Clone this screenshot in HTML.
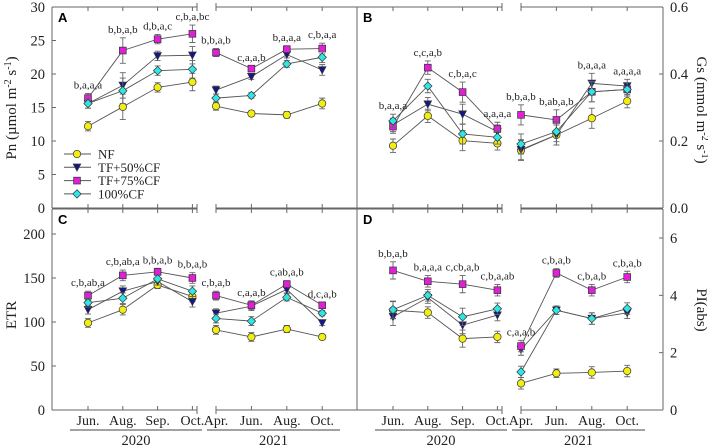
<!DOCTYPE html>
<html><head><meta charset="utf-8">
<style>
html,body{margin:0;padding:0;background:#fff;}
svg{display:block;font-family:"Liberation Serif",serif;}
</style></head>
<body>
<svg id="chart" width="708" height="447" viewBox="0 0 708 447"></svg>
<script>
const months = ["Jun.","Aug.","Sep.","Oct.","Apr.","Jun.","Aug.","Oct."];
const years = ["2020","2021"];
const seriesNames = ["NF","TF+50%CF","TF+75%CF","100%CF"];
// Panel A: Pn
const pnNF   = [12.2,15.1,18.0,18.8,15.2,14.1,13.9,15.6];
const pnTF50 = [15.6,18.3,22.7,22.8,17.6,19.6,22.9,20.6];
const pnTF75 = [16.4,23.5,25.2,26.0,23.2,20.8,23.7,23.8];
const pnCF   = [15.6,17.5,20.5,20.7,16.4,16.8,21.5,22.5];
const pnErr  = [0.7,1.9,0.7,1.3,0.6,0.4,0.5,0.8];
const pnLabels = ["b,a,a,a","b,b,a,b","d,b,a,c","c,b,a,bc","b,b,a,b","c,a,a,b","b,a,a,a","c,b,a,a"];
const pnTicks = [0,5,10,15,20,25,30];
// Panel B: Gs
const gsNF   = [0.186,0.275,0.201,0.193,0.172,0.218,0.268,0.319];
const gsTF50 = [0.248,0.310,0.280,0.228,0.174,0.218,0.372,0.364];
const gsTF75 = [0.243,0.419,0.346,0.236,0.278,0.263,0.347,0.354];
const gsCF   = [0.260,0.364,0.221,0.211,0.191,0.228,0.347,0.354];
const gsErr  = [0.02,0.02,0.03,0.02,0.03,0.03,0.03,0.02];
const gsLabels = ["b,a,a,a","c,c,a,b","c,b,a,c","a,a,a,a","b,b,a,b","b,ab,a,b","b,a,a,a","a,a,a,a"];
const gsTicks = [0.0,0.2,0.4,0.6];
// Panel C: ETR
const etrNF   = [99,114,142,129,91,83,92,83];
const etrTF50 = [114,135,146,123,110,118,137,99];
const etrTF75 = [130,153,157,150,130,119,143,119];
const etrCF   = [122,127,149,135,104,101,128,110];
const etrErr  = [5,6,4,6,5,5,4,3];
const etrLabels = ["c,b,ab,a","c,b,ab,a","b,b,a,b","b,b,a,b","c,b,a,b","c,a,a,b","c,ab,a,b","d,c,a,b"];
const etrTicks = [0,50,100,150,200];
// Panel D: PI(abs)
const piNF   = [3.48,3.40,2.49,2.55,0.93,1.28,1.31,1.36];
const piTF50 = [3.25,3.92,2.96,3.31,2.11,3.48,3.19,3.39];
const piTF75 = [4.87,4.49,4.39,4.18,2.23,4.78,4.18,4.64];
const piCF   = [3.50,4.00,3.25,3.53,1.33,3.48,3.19,3.54];
const piErr  = [0.3,0.2,0.3,0.2,0.2,0.15,0.2,0.2];
const piLabels = ["b,b,a,b","b,a,a,a","c,cb,a,b","c,b,a,ab","c,a,a,b","c,b,a,b","c,b,a,b","c,b,a,b"];
const piTicks = [0,2,4,6];

const NS="http://www.w3.org/2000/svg";
const svg=document.getElementById('chart');
function mk(tag,attrs,parent){const e=document.createElementNS(NS,tag);for(const k in attrs)e.setAttribute(k,attrs[k]);(parent||svg).appendChild(e);return e;}
const colors=["#f2ee10","#16168a","#e020d8","#2ee6e6"];

function xPos(left,i){return i<4? left+36+i*34.8 : left+164+(i-4)*35.4;}

function drawPanel(p){
  const g=mk('g',{});
  
  
  const L=p.left,R=p.right,T=p.top,B=p.bot;
  const y=v=>p.y0-(v-p.vmin)*p.scale;
  const br1=L+145,br2=L+164;
  [[L,T,br1,T],[br2,T,R,T],[L,B,br1,B],[br2,B,R,B],[L,T,L,B],[R,T,R,B]].forEach(s=>mk('line',{x1:s[0],y1:s[1],x2:s[2],y2:s[3],stroke:'#666','stroke-width':1},g));
  [br1,br2].forEach(bx=>{mk('line',{x1:bx,y1:T-4,x2:bx,y2:T+4,stroke:'#666'},g);mk('line',{x1:bx,y1:B-4,x2:bx,y2:B+4,stroke:'#666'},g);});
  for(let i=0;i<8;i++){const x=xPos(L,i);mk('line',{x1:x,y1:T,x2:x,y2:T+4,stroke:'#666'},g);mk('line',{x1:x,y1:B,x2:x,y2:B-4,stroke:'#666'},g);}
  const ax=p.axisRight?R:L;
  p.ticks.forEach(t=>{
    const yy=y(t);
    mk('line',{x1:ax,y1:yy,x2:p.axisRight?ax-4:ax+4,y2:yy,stroke:'#666'},g);
    const tx=mk('text',{x:p.axisRight?ax+7:ax-7,y:yy+5,'font-size':14.5,'text-anchor':p.axisRight?'start':'end',fill:'#222'},g);
    tx.textContent=p.tickFmt?p.tickFmt(t):t;
    
    
  });
  const lt=mk('text',{x:L+6,y:T+15,'font-size':13,'font-weight':'bold','font-family':'Liberation Sans,sans-serif',fill:'#000'},g);
  lt.textContent=p.id;
  
  
  const sers=[p.s[0],p.s[1],p.s[2],p.s[3]];
  sers.forEach((vals,si)=>{
    [[0,4],[4,8]].forEach(([a,b])=>{
      let d='';for(let i=a;i<b;i++)d+=(i===a?'M':'L')+xPos(L,i)+','+y(vals[i]);
      const pl=mk('path',{d:d,fill:'none',stroke:'#555','stroke-width':0.9},g);
      
      
    });
  });
  sers.forEach((vals,si)=>{
    for(let i=0;i<8;i++){
      const x=xPos(L,i),yy=y(vals[i]),e=p.err[i]*p.scale;
      mk('path',{d:`M${x},${yy-e}V${yy+e}M${x-3},${yy-e}H${x+3}M${x-3},${yy+e}H${x+3}`,stroke:'#666','stroke-width':0.9,fill:'none'},g);
      marker(g,si,x,yy);
    }
  });
  for(let i=0;i<8;i++){
    let mx=Math.max(sers[0][i],sers[1][i],sers[2][i],sers[3][i]);
    const lb=mk('text',{x:xPos(L,i),y:y(mx)-p.err[i]*p.scale-5,'font-size':11,'text-anchor':'middle',fill:'#222'},g);
    lb.textContent=p.labels[i];
    
    
  }
}
function marker(g,si,x,y){
  let m;
  const st={fill:colors[si],stroke:'#333','stroke-width':0.7};
  if(si===0)m=mk('circle',Object.assign({cx:x,cy:y,r:3.7},st),g);
  else if(si===1)m=mk('path',Object.assign({d:`M${x-3.8},${y-3.3}L${x+3.8},${y-3.3}L${x},${y+3.8}Z`},st),g);
  else if(si===2)m=mk('rect',Object.assign({x:x-3.4,y:y-3.4,width:6.8,height:6.8},st),g);
  else m=mk('path',Object.assign({d:`M${x},${y-4.2}L${x+4.2},${y}L${x},${y+4.2}L${x-4.2},${y}Z`},st),g);
  
  
  return m;
}
drawPanel({id:'A',left:52,right:357,top:7,bot:208,y0:208,vmin:0,scale:201/30,axisRight:false,ticks:pnTicks,s:[pnNF,pnTF50,pnTF75,pnCF],err:pnErr,labels:pnLabels});
drawPanel({id:'B',left:357,right:663,top:7,bot:208,y0:208,vmin:0,scale:201/0.6,axisRight:true,ticks:gsTicks,tickFmt:t=>t.toFixed(1),s:[gsNF,gsTF50,gsTF75,gsCF],err:gsErr,labels:gsLabels});
drawPanel({id:'C',left:52,right:357,top:209,bot:410,y0:410,vmin:0,scale:0.88,axisRight:false,ticks:etrTicks,s:[etrNF,etrTF50,etrTF75,etrCF],err:etrErr,labels:etrLabels});
drawPanel({id:'D',left:357,right:663,top:209,bot:410,y0:410,vmin:0,scale:172/6,axisRight:true,ticks:piTicks,s:[piNF,piTF50,piTF75,piCF],err:piErr,labels:piLabels});

[52,357].forEach((L,pi)=>{
  months.forEach((m,i)=>{
    const t=mk('text',{x:xPos(L,i),y:425,'font-size':14,'text-anchor':'middle',fill:'#222'});
    t.textContent=m;
    
    
  });
  years.forEach((yr,k)=>{
    const x1=k===0?L+18:L+155,x2=k===0?L+150:L+288;
    mk('line',{x1:x1,y1:430,x2:x2,y2:430,stroke:'#444'});
    const t=mk('text',{x:(x1+x2)/2,y:445,'font-size':14.5,'text-anchor':'middle',fill:'#222'});
    t.textContent=yr;
    
    
  });
});

function title(txt,x,y,rot,name){
  const t=mk('text',{x:0,y:0,'font-size':15,'text-anchor':'middle',fill:'#222',transform:`translate(${x},${y}) rotate(${rot})`});
  t.innerHTML=txt;
  
  
}
title('Pn (µmol m<tspan dy="-5" font-size="10">-2</tspan><tspan dy="5"> s</tspan><tspan dy="-5" font-size="10">-1</tspan><tspan dy="5">)</tspan>',16,108,-90,'y-axis-title-pn');
title('ETR',16,315,-90,'y-axis-title-etr');
title('Gs (mmol m<tspan dy="-5" font-size="10">-2</tspan><tspan dy="5"> s</tspan><tspan dy="-5" font-size="10">-1</tspan><tspan dy="5">)</tspan>',697,110,90,'y-axis-title-gs');
title('PI(abs)',697,310,90,'y-axis-title-pi');

seriesNames.forEach((n,si)=>{
  const yy=154+si*13.3;
  const g=mk('g',{});
  
  
  mk('line',{x1:64,y1:yy,x2:91,y2:yy,stroke:'#555'},g);
  marker(g,si,77,yy);
  const t=mk('text',{x:98,y:yy+4.5,'font-size':13,fill:'#222'},g);
  t.textContent=n;
});
</script>
</body></html>
